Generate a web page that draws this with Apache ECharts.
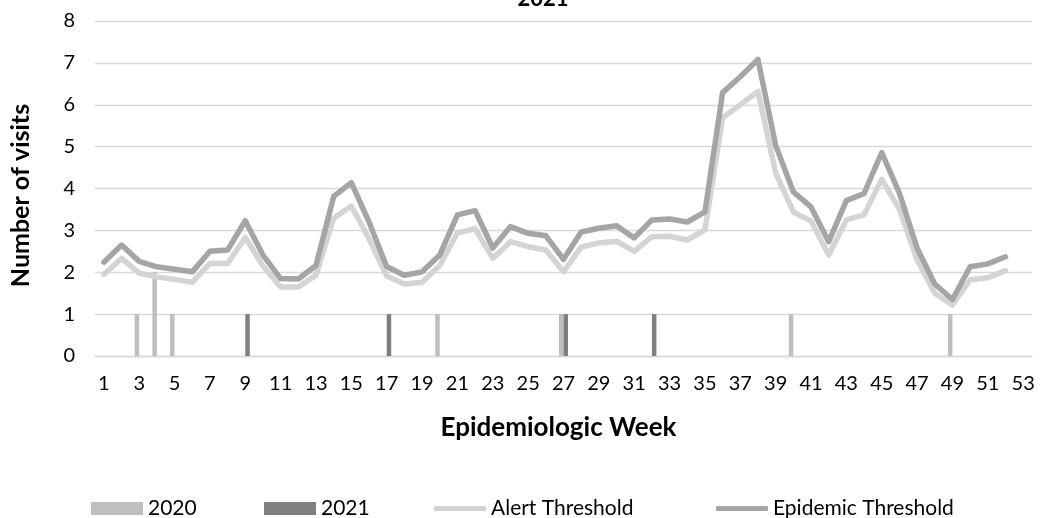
<!DOCTYPE html>
<html>
<head>
<meta charset="utf-8">
<script src="https://cdn.jsdelivr.net/npm/echarts@6/dist/echarts.min.js"></script>
<style>
  html, body { margin: 0; padding: 0; background: #fff; }
  #chart { width: 1050px; height: 518px; }
</style>
</head>
<body>
<div id="chart"></div>
<script>
// 流行病学周 1-53
const weeks = Array.from({ length: 53 }, (_, i) => String(i + 1));

// 病例柱：只有少数几周有值，其它为空
const cases2020 = [null, null, 1, 2, 1, null, null, null, null, null, null, null, null, null, null, null, null, null, null, 1,
  null, null, null, null, null, null, 1, null, null, null, null, null, null, null, null, null, null, null, null, 1,
  null, null, null, null, null, null, null, null, 1, null, null, null, null];
const cases2021 = [null, null, null, null, null, null, null, null, 1, null, null, null, null, null, null, null, 1, null, null, null,
  null, null, null, null, null, null, 1, null, null, null, null, 1, null, null, null, null, null, null, null, null,
  null, null, null, null, null, null, null, null, null, null, null, null, null];

// 阈值线（52 周）
const alertThreshold = [1.95, 2.33, 1.98, 1.89, 1.83, 1.76, 2.21, 2.21, 2.83, 2.15, 1.65, 1.65, 1.93, 3.29, 3.58, 2.8, 1.91, 1.72, 1.76, 2.16,
  2.94, 3.04, 2.33, 2.73, 2.61, 2.53, 2.01, 2.6, 2.7, 2.74, 2.5, 2.85, 2.86, 2.77, 3.01, 5.69, 6.0, 6.32, 4.37, 3.44,
  3.22, 2.41, 3.25, 3.37, 4.22, 3.5, 2.3, 1.5, 1.22, 1.82, 1.87, 2.04];
const epidemicThreshold = [2.24, 2.65, 2.26, 2.13, 2.07, 2.01, 2.5, 2.53, 3.23, 2.41, 1.85, 1.84, 2.16, 3.81, 4.14, 3.2, 2.13, 1.93, 2.01, 2.41,
  3.37, 3.47, 2.58, 3.09, 2.93, 2.87, 2.31, 2.96, 3.05, 3.11, 2.82, 3.25, 3.27, 3.2, 3.44, 6.29, 6.67, 7.08, 5.03, 3.92,
  3.56, 2.73, 3.71, 3.88, 4.86, 3.89, 2.58, 1.72, 1.35, 2.13, 2.2, 2.37];

const yTicks = { min: 0, max: 8, interval: 1 };
const FONT = "Lato";

// Excel 图例各项间距不等，所以每项单独放一个 legend
const legendText = { fontFamily: FONT, fontSize: 21, color: "#000" };
const legendItem = (name, left, icon, h) => ({
  left, top: 493, itemWidth: 52, itemHeight: h, itemGap: 0, icon,
  textStyle: legendText, data: [name],
});

const chart = echarts.init(document.getElementById("chart"));
chart.setOption({
  animation: false,
  textStyle: { fontFamily: FONT },
  title: {
    text: "2021",
    left: 538,
    top: -17,
    textAlign: "center",
    textStyle: { fontFamily: FONT, fontSize: 22, fontWeight: "bold", color: "#000" },
  },
  grid: { left: 95, right: 18, top: 21, bottom: 162, containLabel: false },
  legend: [
    legendItem("2020", 86, "rect", 13),
    legendItem("2021", 259, "rect", 13),
    legendItem("Alert Threshold", 429, "roundRect", 5),
    legendItem("Epidemic Threshold", 711, "roundRect", 5),
  ],
  xAxis: {
    type: "category",
    data: weeks,
    name: "Epidemiologic Week",
    nameLocation: "middle",
    nameGap: 59,
    nameTextStyle: { fontFamily: FONT, fontSize: 26, fontWeight: "bold", color: "#000", padding: [0, 10, 0, 0] },
    axisLine: { lineStyle: { color: "#d9d9d9", width: 1.3 } },
    axisTick: { show: false },
    axisLabel: { interval: 1, margin: 18, fontSize: 20, color: "#000", fontFamily: FONT },
  },
  yAxis: {
    type: "value",
    ...yTicks,
    name: "Number of visits",
    nameLocation: "middle",
    nameGap: 62,
    nameTextStyle: { fontFamily: FONT, fontSize: 25, fontWeight: "bold", color: "#000", padding: [0, 14, 0, 0] },
    axisLine: { show: false },
    axisTick: { show: false },
    axisLabel: { margin: 20, fontSize: 20, color: "#000", fontFamily: FONT },
    splitLine: { lineStyle: { color: "#d9d9d9", width: 1.3 } },
  },
  series: [
    {
      name: "2020",
      type: "bar",
      data: cases2020,
      barWidth: 4.5,
      barGap: "0%",
      itemStyle: { color: "#bfbfbf" },
      z: 1,
    },
    {
      name: "2021",
      type: "bar",
      data: cases2021,
      barWidth: 4.5,
      barGap: "0%",
      itemStyle: { color: "#7f7f7f" },
      z: 1,
    },
    {
      name: "Alert Threshold",
      type: "line",
      data: alertThreshold,
      symbol: "none",
      lineStyle: { color: "#d4d4d4", width: 5.5, cap: "round", join: "round" },
      itemStyle: { color: "#d4d4d4" },
      z: 3,
    },
    {
      name: "Epidemic Threshold",
      type: "line",
      data: epidemicThreshold,
      symbol: "none",
      lineStyle: { color: "#a5a5a5", width: 5.5, cap: "round", join: "round" },
      itemStyle: { color: "#a5a5a5" },
      z: 4,
    },
  ],
});
</script>
</body>
</html>
